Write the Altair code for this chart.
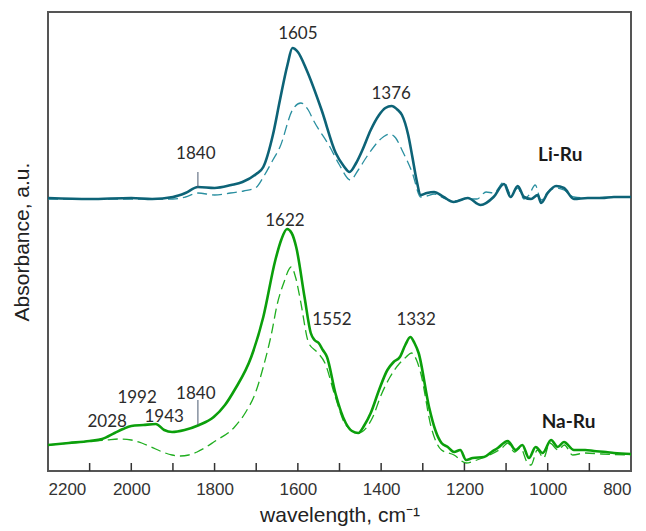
import altair as alt
import pandas as pd

# ---------------- data (wavenumber, absorbance a.u.) ----------------
li_solid_wn = [2200, 2100, 2000, 1950, 1900, 1870, 1840, 1800, 1760, 1733, 1700, 1683, 1660, 1643, 1625, 1613,
               1600, 1579, 1543, 1509, 1490, 1476, 1460, 1445, 1425, 1405, 1390, 1375, 1360, 1350, 1335, 1325,
               1315, 1305, 1290, 1273, 1250, 1226, 1192, 1161, 1130, 1105, 1089, 1072, 1057, 1040, 1024, 1016,
               1000, 980, 961, 937, 904, 870, 841, 800]
li_solid_a = [2.73, 2.72, 2.73, 2.72, 2.74, 2.78, 2.84, 2.83, 2.86, 2.89, 2.97, 3.04, 3.36, 3.71, 4.06, 4.23,
              4.19, 4.01, 3.61, 3.18, 3.05, 2.99, 3.08, 3.21, 3.41, 3.56, 3.63, 3.65, 3.61, 3.56, 3.36, 3.14,
              2.91, 2.76, 2.78, 2.79, 2.74, 2.69, 2.73, 2.66, 2.74, 2.87, 2.74, 2.85, 2.74, 2.72, 2.76, 2.68,
              2.78, 2.85, 2.83, 2.72, 2.73, 2.73, 2.74, 2.74]

li_dash_wn = [2200, 2000, 1900, 1870, 1840, 1800, 1762, 1730, 1702, 1680, 1660, 1643, 1613, 1593, 1575, 1563,
              1523, 1500, 1474, 1455, 1435, 1395, 1380, 1365, 1350, 1325, 1305, 1290, 1273, 1250, 1226, 1192,
              1170, 1148, 1130, 1105, 1089, 1072, 1057, 1045, 1030, 1016, 1000, 980, 961, 937, 904, 841, 800]
li_dash_a = [2.72, 2.72, 2.72, 2.74, 2.78, 2.76, 2.78, 2.80, 2.83, 2.96, 3.11, 3.24, 3.61, 3.68, 3.61, 3.51,
             3.24, 3.06, 2.91, 3.01, 3.14, 3.34, 3.37, 3.33, 3.21, 2.98, 2.74, 2.75, 2.77, 2.73, 2.70, 2.72,
             2.72, 2.79, 2.78, 2.89, 2.77, 2.83, 2.72, 2.76, 2.86, 2.71, 2.79, 2.83, 2.81, 2.74, 2.73, 2.74, 2.74]

na_solid_wn = [2200, 2150, 2100, 2070, 2040, 2020, 2000, 1971, 1941, 1921, 1902, 1872, 1837, 1802, 1775, 1752,
               1712, 1683, 1654, 1640, 1626, 1615, 1604, 1584, 1569, 1560, 1550, 1540, 1530, 1510, 1485, 1470,
               1455, 1440, 1425, 1405, 1385, 1370, 1355, 1342, 1330, 1320, 1310, 1285, 1270, 1255, 1240, 1225,
               1210, 1196, 1180, 1153, 1135, 1120, 1096, 1077, 1061, 1045, 1029, 1012, 992, 976, 961, 937,
               910, 889, 860, 841, 800]
na_solid_a = [0.26, 0.28, 0.30, 0.32, 0.38, 0.42, 0.45, 0.46, 0.47, 0.41, 0.39, 0.41, 0.46, 0.54, 0.66, 0.81,
              1.14, 1.54, 2.11, 2.31, 2.42, 2.38, 2.24, 1.74, 1.38, 1.31, 1.28, 1.21, 1.14, 0.78, 0.48, 0.40,
              0.38, 0.46, 0.58, 0.81, 1.01, 1.09, 1.14, 1.26, 1.34, 1.28, 1.18, 0.64, 0.41, 0.28, 0.24, 0.19,
              0.21, 0.11, 0.13, 0.14, 0.19, 0.23, 0.30, 0.21, 0.26, 0.13, 0.24, 0.18, 0.31, 0.24, 0.29, 0.21,
              0.21, 0.20, 0.19, 0.18, 0.17]

na_dash_wn = [2200, 2150, 2100, 2060, 2031, 2000, 1975, 1952, 1925, 1902, 1882, 1862, 1842, 1820, 1802, 1752,
              1725, 1702, 1683, 1663, 1650, 1634, 1616, 1605, 1594, 1574, 1554, 1535, 1510, 1485, 1455, 1420,
              1400, 1380, 1355, 1340, 1327, 1315, 1305, 1280, 1255, 1225, 1196, 1170, 1140, 1110, 1096, 1080,
              1065, 1050, 1040, 1025, 1010, 995, 975, 960, 940, 910, 870, 800]
na_dash_a = [0.26, 0.28, 0.30, 0.31, 0.32, 0.31, 0.28, 0.24, 0.19, 0.16, 0.15, 0.16, 0.19, 0.24, 0.29, 0.44,
             0.59, 0.78, 1.04, 1.38, 1.66, 1.88, 2.04, 1.93, 1.71, 1.28, 1.19, 1.08, 0.74, 0.46, 0.38, 0.54,
             0.76, 0.93, 1.08, 1.14, 1.18, 1.11, 0.98, 0.44, 0.21, 0.16, 0.08, 0.11, 0.16, 0.23, 0.28, 0.19,
             0.23, 0.09, 0.06, 0.21, 0.13, 0.28, 0.21, 0.26, 0.16, 0.18, 0.17, 0.16]

# peak annotations
peak_text = ["1605", "1376", "1840", "1622", "1552", "1332", "1992", "1840", "2028", "1943"]
peak_wn = [1600, 1376, 1845, 1631, 1518, 1316, 1986, 1845, 2058, 1921]
peak_a = [4.37, 3.77, 3.17, 2.50, 1.51, 1.51, 0.73, 0.77, 0.49, 0.54]

# sample names
sample_text = ["Li-Ru", "Na-Ru"]
sample_wn = [970, 950]
sample_a = [3.16, 0.49]

# marker lines at 1840
marker_wn = [1840, 1840]
marker_a1 = [2.83, 0.46]
marker_a2 = [2.99, 0.71]

x_label_values = [2200, 2000, 1800, 1600, 1400, 1200, 1000, 800]
x_tick_values = [2100, 2000, 1900, 1800, 1700, 1600, 1500, 1400, 1300, 1200, 1100, 1000, 900]

# ---------------- chart ----------------
W, H = 583, 459
xs = alt.Scale(domain=[2200, 800], nice=False)
ys = alt.Scale(domain=[0, 4.59], nice=False, zero=False)

x_enc = alt.X("wn:Q", scale=xs,
              axis=alt.Axis(values=x_label_values, ticks=False, domain=False, grid=False,
                            labelFont="Liberation Sans", labelFontSize=17, labelColor="#333333",
                            labelPadding=10, title="wavelength, cm\u207b\u00b9", titleFont="Liberation Sans",
                            titleFontSize=21, titleFontWeight="normal", titleColor="#222222",
                            titlePadding=7, format="d"))
y_enc = alt.Y("a:Q", scale=ys,
              axis=alt.Axis(labels=False, ticks=False, domain=False, grid=False,
                            title="Absorbance, a.u.", titleFont="Liberation Sans", titleFontSize=21,
                            titleFontWeight="normal", titleColor="#222222", titlePadding=16))


def line(wn, a, color, width, dash=None):
    df = pd.DataFrame({"wn": wn, "a": a})
    kw = dict(color=color, strokeWidth=width, interpolate="monotone")
    if dash:
        kw["strokeDash"] = dash
    return alt.Chart(df).mark_line(**kw).encode(x=x_enc, y=y_enc)


li_dash = line(li_dash_wn, li_dash_a, "#2a8fa0", 1.3, [10, 5])
li_solid = line(li_solid_wn, li_solid_a, "#0d6377", 2.6)
na_dash = line(na_dash_wn, na_dash_a, "#1fae1f", 1.3, [10, 5])
na_solid = line(na_solid_wn, na_solid_a, "#0b9f0b", 2.6)

markers = alt.Chart(pd.DataFrame({"wn": marker_wn, "a": marker_a1, "a2": marker_a2})).mark_rule(
    color="#4a5a70", strokeWidth=1).encode(x=alt.X("wn:Q", scale=xs), y=alt.Y("a:Q", scale=ys), y2="a2:Q")

peaks = alt.Chart(pd.DataFrame({"wn": peak_wn, "a": peak_a, "t": peak_text})).mark_text(
    font="Lato", fontSize=17, color="#2b2b2b", align="center", baseline="middle").encode(
    x=alt.X("wn:Q", scale=xs), y=alt.Y("a:Q", scale=ys), text="t:N")

samples = alt.Chart(pd.DataFrame({"wn": sample_wn, "a": sample_a, "t": sample_text})).mark_text(
    font="Lato", fontSize=19, fontWeight="bold", color="#1a1a1a", align="center", baseline="middle").encode(
    x=alt.X("wn:Q", scale=xs), y=alt.Y("a:Q", scale=ys), text="t:N")

ticks = alt.Chart(pd.DataFrame({"wn": x_tick_values})).mark_rule(color="#333333", strokeWidth=1.5).encode(
    x=alt.X("wn:Q", scale=xs), y=alt.value(H), y2=alt.value(H - 8))

chart = alt.layer(li_dash, li_solid, na_dash, na_solid, markers, ticks, peaks, samples).properties(
    width=W, height=H,
    autosize=alt.AutoSizeParams(type="none"),
    padding={"left": 48, "top": 12, "right": 15, "bottom": 60},
    background="white",
).configure_view(stroke="#555555", strokeWidth=2)

chart.save("out.html", embed_options={"renderer": "svg", "actions": False})
